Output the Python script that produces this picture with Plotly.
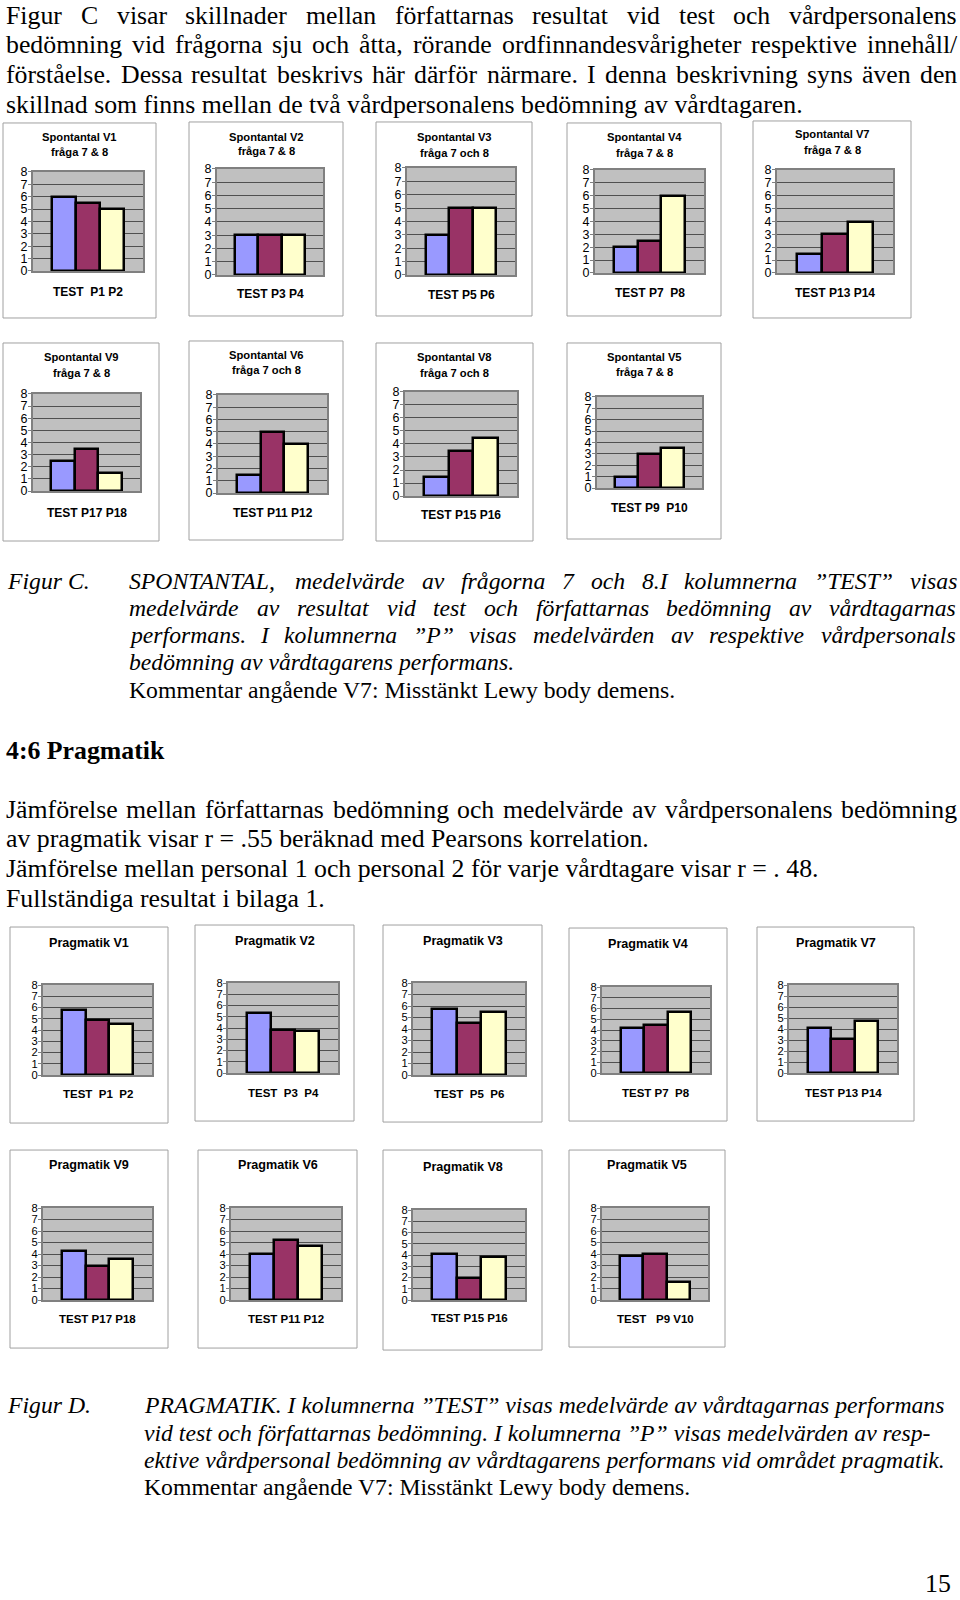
import plotly.graph_objects as go

# ---------------- data ----------------
CATS = ["TEST", "P1", "P2"]
BAR_COLORS = ["#9999FF", "#993366", "#FFFFCC"]

sp_titles = ["Spontantal V1", "Spontantal V2", "Spontantal V3", "Spontantal V4", "Spontantal V7",
             "Spontantal V9", "Spontantal V6", "Spontantal V8", "Spontantal V5"]
sp_subtitles = ["fråga 7 &amp; 8", "fråga 7 &amp; 8", "fråga 7 och 8", "fråga 7 &amp; 8", "fråga 7 &amp; 8",
                "fråga 7 &amp; 8", "fråga 7 och 8", "fråga 7 och 8", "fråga 7 &amp; 8"]
sp_labels = ["TEST  P1 P2", "TEST P3 P4", "TEST P5 P6", "TEST P7  P8", "TEST P13 P14",
             "TEST P17 P18", "TEST P11 P12", "TEST P15 P16", "TEST P9  P10"]
sp_test = [6, 3, 3, 2, 1.5, 2.5, 1.5, 1.5, 1]
sp_p1 = [5.5, 3, 5, 2.5, 3, 3.5, 5, 3.5, 3]
sp_p2 = [5, 3, 5, 6, 4, 1.5, 4, 4.5, 3.5]

pr_titles = ["Pragmatik V1", "Pragmatik V2", "Pragmatik V3", "Pragmatik V4", "Pragmatik V7",
             "Pragmatik V9", "Pragmatik V6", "Pragmatik V8", "Pragmatik V5"]
pr_labels = ["TEST  P1  P2", "TEST  P3  P4", "TEST  P5  P6", "TEST P7  P8", "TEST P13 P14",
             "TEST P17 P18", "TEST P11 P12", "TEST P15 P16", "TEST   P9 V10"]
pr_test = [5.8, 5.3, 5.7, 4.2, 4.1, 4.3, 4.0, 4.1, 3.8]
pr_p1 = [4.9, 3.8, 4.5, 4.5, 3.1, 3.0, 5.2, 2.0, 4.0]
pr_p2 = [4.5, 3.7, 5.5, 5.7, 4.7, 3.6, 4.7, 3.8, 1.6]

Y_TICKS = [0, 1, 2, 3, 4, 5, 6, 7, 8]

# text
para1 = ["Figur C visar skillnader mellan författarnas resultat vid test och vårdpersonalens",
         "bedömning vid frågorna sju och åtta, rörande ordfinnandesvårigheter respektive innehåll/",
         "förståelse. Dessa resultat beskrivs här därför närmare. I denna beskrivning syns även den",
         "skillnad som finns mellan de två vårdpersonalens bedömning av vårdtagaren."]
capC = ["SPONTANTAL, medelvärde av frågorna 7 och 8.I kolumnerna ”TEST” visas",
        "medelvärde av resultat vid test och författarnas bedömning av vårdtagarnas",
        "performans. I kolumnerna ”P” visas medelvärden av respektive vårdpersonals",
        "bedömning av vårdtagarens performans."]
comment = "Kommentar angående V7: Misstänkt Lewy body demens."
heading = "4:6 Pragmatik"
para2 = ["Jämförelse mellan författarnas bedömning och medelvärde av vårdpersonalens bedömning",
         "av pragmatik visar r = .55 beräknad med Pearsons korrelation.",
         "Jämförelse mellan personal 1 och personal 2 för varje vårdtagare visar r = . 48.",
         "Fullständiga resultat i bilaga 1."]
capD = ["PRAGMATIK. I kolumnerna ”TEST” visas medelvärde av vårdtagarnas performans",
        "vid test och författarnas bedömning. I kolumnerna ”P” visas medelvärden av resp-",
        "ektive vårdpersonal bedömning av vårdtagarens performans vid området pragmatik."]
page_no = "15"

# ---------------- geometry (pixels) ----------------
W, H = 960, 1600
SP_BOX = [(3, 123, 156, 318), (189, 122, 343, 316), (376, 122, 532, 316), (567, 123, 721, 316),
          (753, 121, 911, 318), (3, 343, 159, 541), (189, 341, 343, 540), (376, 343, 533, 541),
          (567, 343, 721, 539)]
SP_PLOT = [(33, 172, 143, 271), (217, 169, 323, 275), (407, 168, 515, 275), (595, 170, 704, 273),
           (777, 170, 893, 273), (33, 394, 140, 491), (218, 395, 327, 493), (405, 392, 517, 496),
           (597, 397, 702, 488)]
SP_TITLE_Y = [(137, 152), (137, 151), (137, 153), (137, 153), (134, 150), (357, 373), (355, 370),
              (357, 373), (357, 372)]
SP_LABEL_Y = [292, 294, 295, 293, 293, 513, 513, 515, 508]

PR_BOX = [(10, 927, 168, 1123), (195, 925, 354, 1121), (383, 925, 542, 1122), (569, 928, 727, 1121),
          (757, 927, 914, 1121), (10, 1150, 168, 1348), (198, 1150, 357, 1348), (383, 1150, 542, 1350),
          (569, 1150, 725, 1347)]
PR_PLOT = [(43, 985, 152, 1075), (228, 983, 338, 1073), (413, 983, 525, 1075), (602, 987, 710, 1073),
           (789, 985, 897, 1073), (43, 1208, 152, 1300), (231, 1208, 341, 1300), (413, 1210, 525, 1300),
           (602, 1208, 708, 1300)]
PR_TITLE_Y = [943, 941, 941, 944, 943, 1165, 1165, 1167, 1165]
PR_LABEL_Y = [1094, 1093, 1094, 1093, 1093, 1319, 1319, 1318, 1319]

SANS = "Liberation Sans, Arial, sans-serif"
SERIF = "Liberation Serif, Times New Roman, serif"


def px(x):
    return x / W


def py(y):
    yc = y * 1.0089 - 7.1
    return 1 - yc / H


# Times metrics (per 1000 em) for justification
ROMAN = {' ': 250, ',': 250, '.': 250, '-': 333, '/': 278, ':': 278, '=': 564, '”': 444, '"': 408}
for c in '0123456789':
    ROMAN[c] = 500
ROMAN.update(dict(zip("ABCDEFGHIJKLMNOPQRSTUVWXYZ",
                      [722, 667, 667, 722, 611, 556, 722, 722, 333, 389, 722, 611, 889, 722, 722, 556, 722,
                       667, 556, 611, 722, 722, 944, 722, 722, 611])))
ROMAN.update(dict(zip("abcdefghijklmnopqrstuvwxyz",
                      [444, 500, 444, 500, 444, 333, 500, 500, 278, 278, 500, 278, 778, 500, 500, 500, 500,
                       333, 389, 278, 500, 500, 722, 500, 500, 444])))
ROMAN.update({'å': 444, 'ä': 444, 'ö': 500, 'é': 444, 'Å': 722, 'Ä': 722, 'Ö': 722})
ITALIC = {' ': 250, ',': 250, '.': 250, '-': 333, '/': 278, ':': 333, '=': 675, '”': 556, '"': 420}
for c in '0123456789':
    ITALIC[c] = 500
ITALIC.update(dict(zip("ABCDEFGHIJKLMNOPQRSTUVWXYZ",
                       [611, 611, 667, 722, 611, 611, 722, 722, 333, 444, 667, 556, 833, 667, 722, 611, 722,
                        611, 500, 556, 722, 611, 833, 611, 556, 556])))
ITALIC.update(dict(zip("abcdefghijklmnopqrstuvwxyz",
                       [500, 500, 444, 500, 444, 278, 500, 500, 278, 278, 444, 278, 722, 500, 500, 500, 500,
                        389, 389, 278, 500, 444, 667, 444, 444, 389])))
ITALIC.update({'å': 500, 'ä': 500, 'ö': 500, 'é': 444})


def tw(s, table, size):
    return sum(table.get(ch, 500) for ch in s) * size / 1000.0


annotations = []
shapes = []


def add_text(text, x, y, size, family=SERIF, xanchor="left", style=None, color="black", yanchor="middle"):
    t = text
    if style == "i":
        t = "<i>" + text + "</i>"
    elif style == "b":
        t = "<b>" + text + "</b>"
    annotations.append(dict(text=t, x=px(x), y=py(y), xref="paper", yref="paper", xanchor=xanchor,
                            yanchor=yanchor, showarrow=False, borderpad=0, borderwidth=0,
                            font=dict(family=family, size=size, color=color)))


def add_justified(text, x0, x1, y, size, style=None):
    table = ITALIC if style == "i" else ROMAN
    words = text.split()
    widths = [tw(w, table, size) for w in words]
    gap = (x1 - x0 - sum(widths)) / (len(words) - 1)
    gap = max(gap, 0.6 * 250 * size / 1000.0)
    x = x0
    for w, wd in zip(words, widths):
        add_text(w, x, y, size, style=style)
        x += wd + gap


BODY = 25.8
CAP = 23.7

# top paragraph
p1_y = [15.3, 44.9, 74.5, 104.1]
for i, line in enumerate(para1):
    if i < 3:
        add_justified(line, 6, 957, p1_y[i], BODY)
    else:
        add_text(line, 6, p1_y[i], BODY)

# caption C
cC_y = [580.6, 608.2, 634.7, 662.2, 689.8]
add_text("Figur C.", 7, cC_y[0], CAP, style="i")
for i, line in enumerate(capC):
    if i < 3:
        add_justified(line, 128.6, 957, cC_y[i], CAP, style="i")
    else:
        add_text(line, 128.6, cC_y[i], CAP, style="i")
add_text(comment, 128.6, cC_y[4], CAP)

# heading
add_text(heading, 6, 750, BODY, style="b")

# paragraph 2
p2_y = [809.2, 838.8, 868.4, 898.0]
for i, line in enumerate(para2):
    if i == 0:
        add_justified(line, 6, 957, p2_y[i], BODY)
    else:
        add_text(line, 6, p2_y[i], BODY)

# caption D
cD_y = [1405, 1432.7, 1460.2, 1486.7]
add_text("Figur D.", 7, cD_y[0], CAP, style="i")
for i, line in enumerate(capD):
    add_text(line, 144, cD_y[i], CAP, style="i")
add_text(comment, 144, cD_y[3], CAP)

# page number
annotations.append(dict(text=page_no, x=px(951), y=-0.003, xref="paper", yref="paper", xanchor="right",
                        yanchor="bottom", showarrow=False, borderpad=0, borderwidth=0,
                        font=dict(family=SERIF, size=BODY, color="black")))

# ---------------- charts ----------------
fig = go.Figure()
layout_axes = {}
charts = []
for i in range(9):
    charts.append(dict(vals=[sp_test[i], sp_p1[i], sp_p2[i]], box=SP_BOX[i], plot=SP_PLOT[i],
                       titles=[(sp_titles[i], SP_TITLE_Y[i][0], 11.2), (sp_subtitles[i], SP_TITLE_Y[i][1], 11.2)],
                       label=sp_labels[i], label_y=SP_LABEL_Y[i], label_size=12, tick_size=12.5))
for i in range(9):
    charts.append(dict(vals=[pr_test[i], pr_p1[i], pr_p2[i]], box=PR_BOX[i], plot=PR_PLOT[i],
                       titles=[(pr_titles[i], PR_TITLE_Y[i], 12.6)],
                       label=pr_labels[i], label_y=PR_LABEL_Y[i], label_size=11.5, tick_size=11.2))

for k, ch in enumerate(charts):
    n = k + 1
    xa = "x" if n == 1 else f"x{n}"
    ya = "y" if n == 1 else f"y{n}"
    fig.add_trace(go.Bar(x=CATS, y=ch["vals"], xaxis=xa, yaxis=ya,
                         marker=dict(color=BAR_COLORS, line=dict(color="black", width=2.5)),
                         hoverinfo="x+y", showlegend=False))
    x0, y0, x1, y1 = ch["plot"]
    layout_axes["xaxis" if n == 1 else f"xaxis{n}"] = dict(
        domain=[px(x0), px(x1)], anchor=ya, range=[-1.29, 3.29], type="category",
        showticklabels=False, ticks="", showgrid=False, zeroline=False,
        showline=True, mirror=True, linecolor="#808080", linewidth=2, fixedrange=True)
    layout_axes["yaxis" if n == 1 else f"yaxis{n}"] = dict(
        domain=[py(y1), py(y0)], anchor=xa, range=[0, 8], tickmode="array", tickvals=Y_TICKS,
        ticks="outside", ticklen=3, tickcolor="#808080", tickwidth=1, ticklabelstandoff=-2,
        tickfont=dict(family=SANS, size=ch["tick_size"], color="black"),
        showgrid=True, gridcolor="#505050", gridwidth=1, zeroline=False,
        showline=True, mirror=True, linecolor="#808080", linewidth=2, fixedrange=True)
    bx0, by0, bx1, by1 = ch["box"]
    shapes.append(dict(type="rect", xref="paper", yref="paper", x0=px(bx0), x1=px(bx1),
                       y0=py(by1), y1=py(by0), line=dict(color="#A0A0A0", width=1),
                       fillcolor="rgba(0,0,0,0)", layer="below"))
    cx = (bx0 + bx1) / 2
    for (t, ty, ts) in ch["titles"]:
        add_text(t, cx, ty, ts, family=SANS, xanchor="center", style="b")
    add_text(ch["label"], (x0 + x1) / 2, ch["label_y"], ch["label_size"], family=SANS,
             xanchor="center", style="b")

fig.update_layout(width=W, height=H, margin=dict(l=0, r=0, t=0, b=0), autosize=False,
                  paper_bgcolor="white", plot_bgcolor="#C0C0C0", bargap=0, showlegend=False,
                  annotations=annotations, shapes=shapes, **layout_axes)

fig.write_html("out.html", config={"displayModeBar": False},
               post_script="document.body.style.margin='0';")
